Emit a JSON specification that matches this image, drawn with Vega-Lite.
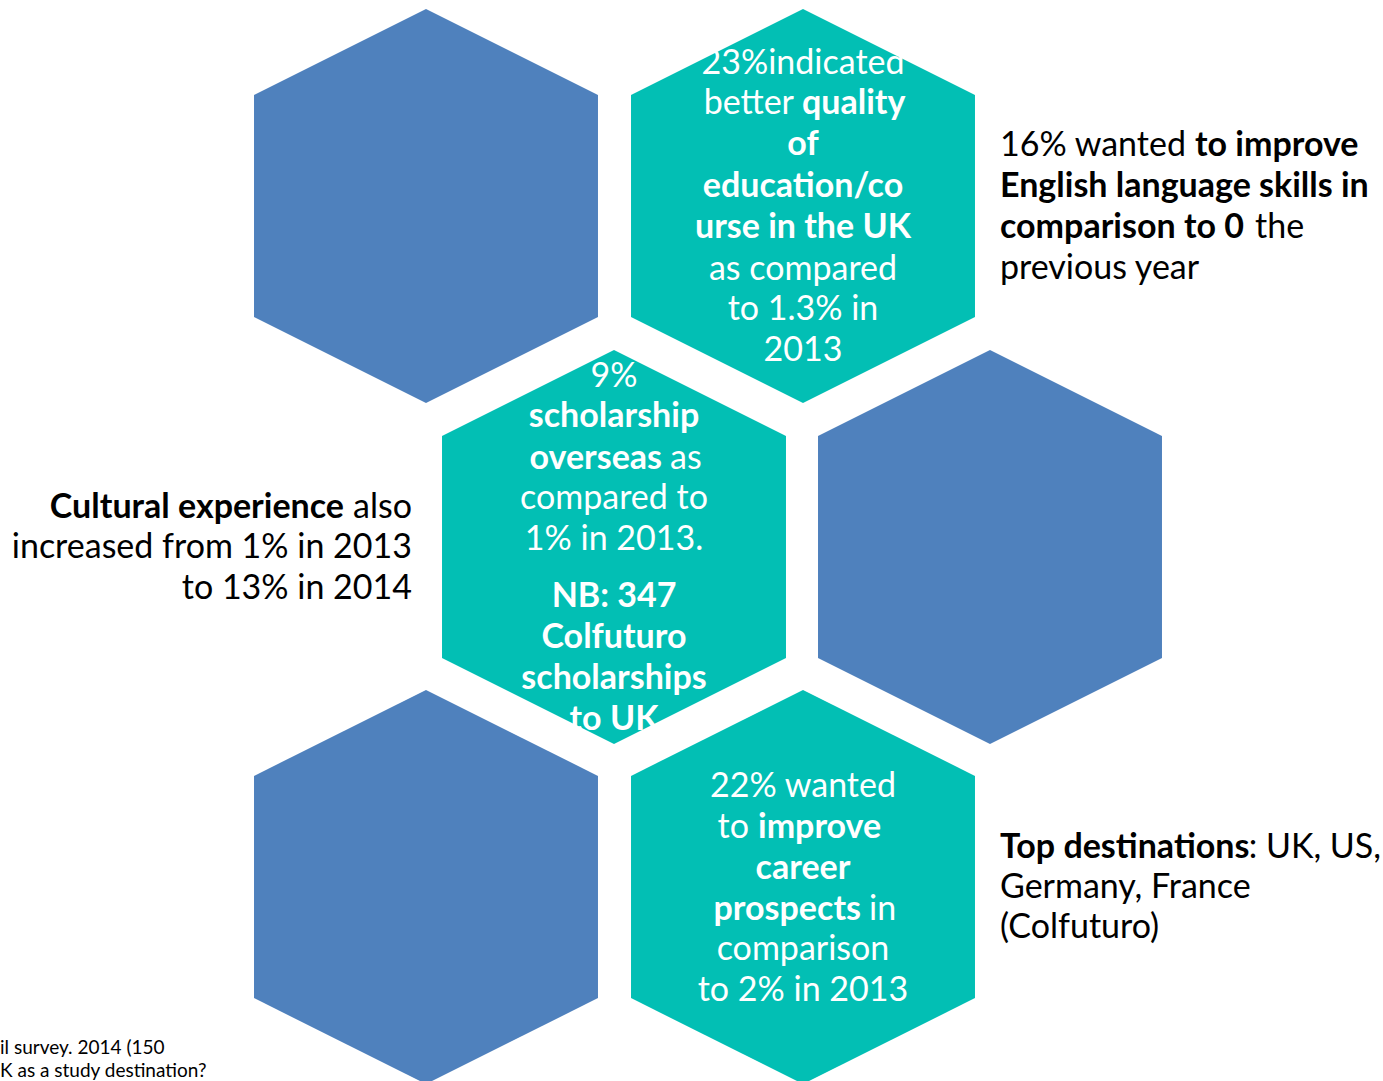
{
  "$schema": "https://vega.github.io/schema/vega-lite/v6.json",
  "width": 1383,
  "height": 1081,
  "autosize": "none",
  "padding": 0,
  "background": "#FFFFFF",
  "config": {"view": {"stroke": null}},
  "datasets": {
    "hexes": [
      {"cx": 426, "cy": 206, "kind": "image"},
      {"cx": 803, "cy": 206, "kind": "fact"},
      {"cx": 614, "cy": 547, "kind": "fact"},
      {"cx": 990, "cy": 547, "kind": "image"},
      {"cx": 426, "cy": 887, "kind": "image"},
      {"cx": 803, "cy": 887, "kind": "fact"}
    ],
    "lines": [
      {"x": 803, "y": 74, "text": "23%indicated", "weight": "regular", "anchor": "middle", "tone": "onHex"},
      {"x": 794, "y": 114, "text": "better", "weight": "regular", "anchor": "end", "tone": "onHex"},
      {"x": 802, "y": 114, "text": "quality", "weight": "bold", "anchor": "start", "tone": "onHex"},
      {"x": 803, "y": 155, "text": "of", "weight": "bold", "anchor": "middle", "tone": "onHex"},
      {"x": 803, "y": 197, "text": "education/co", "weight": "bold", "anchor": "middle", "tone": "onHex"},
      {"x": 803, "y": 238, "text": "urse in the UK", "weight": "bold", "anchor": "middle", "tone": "onHex"},
      {"x": 803, "y": 280, "text": "as compared", "weight": "regular", "anchor": "middle", "tone": "onHex"},
      {"x": 803, "y": 320, "text": "to 1.3% in", "weight": "regular", "anchor": "middle", "tone": "onHex"},
      {"x": 803, "y": 361, "text": "2013", "weight": "regular", "anchor": "middle", "tone": "onHex"},

      {"x": 614, "y": 387, "text": "9%", "weight": "regular", "anchor": "middle", "tone": "onHex"},
      {"x": 614, "y": 427, "text": "scholarship", "weight": "bold", "anchor": "middle", "tone": "onHex"},
      {"x": 662, "y": 469, "text": "overseas", "weight": "bold", "anchor": "end", "tone": "onHex"},
      {"x": 670, "y": 469, "text": "as", "weight": "regular", "anchor": "start", "tone": "onHex"},
      {"x": 614, "y": 509, "text": "compared to", "weight": "regular", "anchor": "middle", "tone": "onHex"},
      {"x": 614, "y": 550, "text": "1% in 2013.", "weight": "regular", "anchor": "middle", "tone": "onHex"},
      {"x": 614, "y": 607, "text": "NB: 347", "weight": "bold", "anchor": "middle", "tone": "onHex"},
      {"x": 614, "y": 648, "text": "Colfuturo", "weight": "bold", "anchor": "middle", "tone": "onHex"},
      {"x": 614, "y": 689, "text": "scholarships", "weight": "bold", "anchor": "middle", "tone": "onHex"},
      {"x": 614, "y": 730, "text": "to UK", "weight": "bold", "anchor": "middle", "tone": "onHex"},

      {"x": 803, "y": 797, "text": "22% wanted", "weight": "regular", "anchor": "middle", "tone": "onHex"},
      {"x": 749, "y": 838, "text": "to", "weight": "regular", "anchor": "end", "tone": "onHex"},
      {"x": 758, "y": 838, "text": "improve", "weight": "bold", "anchor": "start", "tone": "onHex"},
      {"x": 803, "y": 879, "text": "career", "weight": "bold", "anchor": "middle", "tone": "onHex"},
      {"x": 861, "y": 920, "text": "prospects", "weight": "bold", "anchor": "end", "tone": "onHex"},
      {"x": 869, "y": 920, "text": "in", "weight": "regular", "anchor": "start", "tone": "onHex"},
      {"x": 803, "y": 960, "text": "comparison", "weight": "regular", "anchor": "middle", "tone": "onHex"},
      {"x": 803, "y": 1001, "text": "to 2% in 2013", "weight": "regular", "anchor": "middle", "tone": "onHex"},

      {"x": 1000, "y": 156, "text": "16% wanted", "weight": "regular", "anchor": "start", "tone": "onPage"},
      {"x": 1195, "y": 156, "text": "to improve", "weight": "bold", "anchor": "start", "tone": "onPage"},
      {"x": 1000, "y": 197, "text": "English language skills in", "weight": "bold", "anchor": "start", "tone": "onPage"},
      {"x": 1000, "y": 238, "text": "comparison to 0", "weight": "bold", "anchor": "start", "tone": "onPage"},
      {"x": 1255, "y": 238, "text": "the", "weight": "regular", "anchor": "start", "tone": "onPage"},
      {"x": 1000, "y": 279, "text": "previous year", "weight": "regular", "anchor": "start", "tone": "onPage"},

      {"x": 1000, "y": 858, "text": "Top destinations", "weight": "bold", "anchor": "start", "tone": "onPage"},
      {"x": 1381, "y": 858, "text": ": UK, US,", "weight": "regular", "anchor": "end", "tone": "onPage"},
      {"x": 1000, "y": 898, "text": "Germany, France", "weight": "regular", "anchor": "start", "tone": "onPage"},
      {"x": 1000, "y": 938, "text": "(Colfuturo)", "weight": "regular", "anchor": "start", "tone": "onPage"},

      {"x": 344, "y": 518, "text": "Cultural experience", "weight": "bold", "anchor": "end", "tone": "onPage"},
      {"x": 412, "y": 518, "text": "also", "weight": "regular", "anchor": "end", "tone": "onPage"},
      {"x": 412, "y": 558, "text": "increased from 1% in 2013", "weight": "regular", "anchor": "end", "tone": "onPage"},
      {"x": 412, "y": 599, "text": "to 13% in 2014", "weight": "regular", "anchor": "end", "tone": "onPage"}
    ],
    "notes": [
      {"x": 0, "y": 1054, "text": "il survey. 2014 (150"},
      {"x": 0, "y": 1077, "text": "K as a study destination?"}
    ]
  },
  "encoding": {
    "x": {"field": "x", "type": "quantitative", "scale": {"domain": [0, 1383], "nice": false, "zero": false}, "axis": null},
    "y": {"field": "y", "type": "quantitative", "scale": {"domain": [0, 1081], "nice": false, "zero": false, "reverse": true}, "axis": null}
  },
  "layer": [
    {
      "data": {"name": "hexes"},
      "mark": {
        "type": "point",
        "shape": "M0,-1L0.873,-0.564L0.873,0.564L0,1L-0.873,0.564L-0.873,-0.564Z",
        "size": 155236,
        "filled": true,
        "opacity": 1,
        "strokeWidth": 0
      },
      "encoding": {
        "x": {"field": "cx", "type": "quantitative"},
        "y": {"field": "cy", "type": "quantitative"},
        "color": {"field": "kind", "type": "nominal", "scale": {"domain": ["image", "fact", "onHex", "onPage"], "range": ["#4F81BD", "#02BFB4", "#FFFFFF", "#000000"]}, "legend": null}
      }
    },
    {
      "data": {"name": "lines"},
      "transform": [{"filter": "datum.anchor === 'middle' && datum.weight === 'regular'"}],
      "mark": {"type": "text", "font": "Lato", "fontSize": 34, "fontWeight": "normal", "align": "center", "baseline": "alphabetic"},
      "encoding": {"text": {"field": "text"}, "color": {"field": "tone", "type": "nominal", "legend": null}}
    },
    {
      "data": {"name": "lines"},
      "transform": [{"filter": "datum.anchor === 'middle' && datum.weight === 'bold'"}],
      "mark": {"type": "text", "font": "Lato", "fontSize": 34, "fontWeight": "bold", "align": "center", "baseline": "alphabetic"},
      "encoding": {"text": {"field": "text"}, "color": {"field": "tone", "type": "nominal", "legend": null}}
    },
    {
      "data": {"name": "lines"},
      "transform": [{"filter": "datum.anchor === 'start' && datum.weight === 'regular'"}],
      "mark": {"type": "text", "font": "Lato", "fontSize": 34, "fontWeight": "normal", "align": "left", "baseline": "alphabetic"},
      "encoding": {"text": {"field": "text"}, "color": {"field": "tone", "type": "nominal", "legend": null}}
    },
    {
      "data": {"name": "lines"},
      "transform": [{"filter": "datum.anchor === 'start' && datum.weight === 'bold'"}],
      "mark": {"type": "text", "font": "Lato", "fontSize": 34, "fontWeight": "bold", "align": "left", "baseline": "alphabetic"},
      "encoding": {"text": {"field": "text"}, "color": {"field": "tone", "type": "nominal", "legend": null}}
    },
    {
      "data": {"name": "lines"},
      "transform": [{"filter": "datum.anchor === 'end' && datum.weight === 'regular'"}],
      "mark": {"type": "text", "font": "Lato", "fontSize": 34, "fontWeight": "normal", "align": "right", "baseline": "alphabetic"},
      "encoding": {"text": {"field": "text"}, "color": {"field": "tone", "type": "nominal", "legend": null}}
    },
    {
      "data": {"name": "lines"},
      "transform": [{"filter": "datum.anchor === 'end' && datum.weight === 'bold'"}],
      "mark": {"type": "text", "font": "Lato", "fontSize": 34, "fontWeight": "bold", "align": "right", "baseline": "alphabetic"},
      "encoding": {"text": {"field": "text"}, "color": {"field": "tone", "type": "nominal", "legend": null}}
    },
    {
      "data": {"name": "notes"},
      "mark": {"type": "text", "font": "Lato", "fontSize": 19, "fontWeight": "normal", "align": "left", "baseline": "alphabetic", "color": "#000000"},
      "encoding": {"text": {"field": "text"}}
    }
  ]
}
